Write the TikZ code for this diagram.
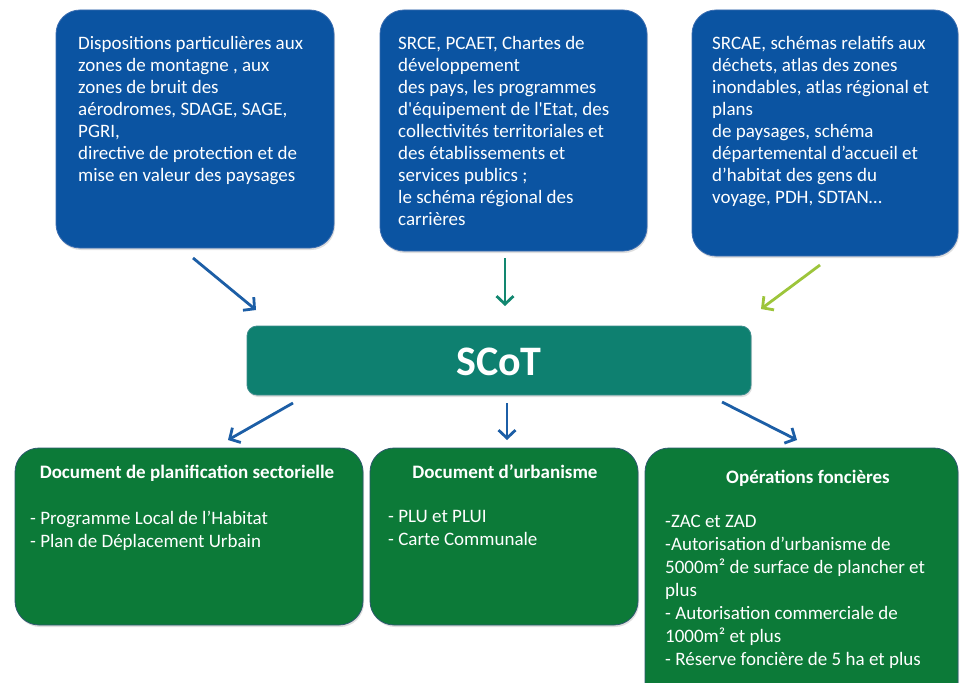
\documentclass[tikz,border=0pt]{standalone}
\usepackage{fontspec}
\setmainfont{Carlito}
\usetikzlibrary{arrows.meta,shadows}
\definecolor{topblue}{RGB}{11,84,162}
\definecolor{topedge}{RGB}{58,108,176}
\definecolor{botgreen}{RGB}{12,122,56}
\definecolor{botedge}{RGB}{45,88,110}
\definecolor{scotteal}{RGB}{14,128,112}
\definecolor{scotedge}{RGB}{60,140,140}
\definecolor{arblue}{RGB}{28,94,166}
\definecolor{arteal}{RGB}{18,135,112}
\definecolor{arlime}{RGB}{157,197,59}
\begin{document}
\begin{tikzpicture}[x=1pt,y=-1pt,
  boxshape/.style={inner sep=0pt, outer sep=0pt, anchor=north west, rounded corners=24pt,
    drop shadow={opacity=0.25, shadow xshift=1pt, shadow yshift=-2pt}},
  topbox/.style={boxshape, fill=topblue, draw=topedge, line width=0.8pt},
  botbox/.style={boxshape, fill=botgreen, draw=botedge, line width=0.8pt},
  txt/.style={text=white, align=left, inner sep=0pt, anchor=north west,
    font=\fontsize{19}{22}\selectfont, execute at begin node=\strut},
  btxt/.style={txt, font=\fontsize{19}{23}\selectfont},
  head/.style={text=white, inner sep=0pt, anchor=base, font=\fontsize{19}{22}\selectfont\bfseries},
  arr/.style={line width=2.8pt, -{Straight Barb[length=8pt,width=17pt]}}]
\useasboundingbox (0,0) rectangle (960,682);
\clip (0,0) rectangle (960,682);
\fill[white] (0,0) rectangle (960,682);
% top boxes
\node[topbox, minimum width=278pt, minimum height=238pt] (b1) at (56,10) {};
\node[topbox, minimum width=267pt, minimum height=241pt] (b2) at (380,10) {};
\node[topbox, minimum width=266pt, minimum height=246pt] (b3) at (692,10) {};
\node[txt] (t1) at (78,36) {Dispositions particulières aux\\zones de montagne , aux\\zones de bruit des\\aérodromes, SDAGE, SAGE,\\PGRI,\\directive de protection et de\\mise en valeur des paysages};
\node[txt] (t2) at (398,36) {SRCE, PCAET, Chartes de\\développement\\des pays, les programmes\\d\textquotesingle équipement de l\textquotesingle Etat, des\\collectivités territoriales et\\des établissements et\\services publics ;\\le schéma régional des\\carrières};
\node[txt] (t3) at (712,36) {SRCAE, schémas relatifs aux\\déchets, atlas des zones\\inondables, atlas régional et\\plans\\de paysages, schéma\\départemental d’accueil et\\d’habitat des gens du\\voyage, PDH, SDTAN…};
% SCoT
\node[inner sep=0pt, outer sep=0pt, anchor=north west, rounded corners=10pt, fill=scotteal, draw=scotedge, line width=0.8pt,
  minimum width=504pt, minimum height=69pt, drop shadow={opacity=0.25, shadow xshift=1pt, shadow yshift=-2pt}] (scot) at (247,326) {};
\node[text=white, font=\fontsize{42}{46}\selectfont\bfseries, inner sep=0pt] (scottxt) at ([yshift=-1pt]scot.center) {SCoT};
% bottom boxes
\node[botbox, minimum width=348pt, minimum height=177pt] (ba) at (15,448) {};
\node[botbox, minimum width=268pt, minimum height=177pt] (bb) at (370,448) {};
\node[botbox, minimum width=313pt, minimum height=260pt] (bc) at (645,448) {};
\node[head] (ha) at (187,478.5) {Document de planification sectorielle};
\node[head] (hb) at (505,478.5) {Document d’urbanisme};
\node[head] (hc) at (808,483.5) {Opérations foncières};
\node[btxt] (ia) at (30,510.4) {- Programme Local de l’Habitat\\- Plan de Déplacement Urbain};
\node[btxt] (ib) at (388,510.4) {- PLU et PLUI\\- Carte Communale};
\node[btxt] (ic) at (665,515.4) {-ZAC et ZAD\\-Autorisation d’urbanisme de\\5000m² de surface de plancher et\\plus\\- Autorisation commerciale de\\1000m² et plus\\- Réserve foncière de 5 ha et plus};
% arrow ends
\coordinate (a1s) at (193,258); \coordinate (a1e) at (256,310);
\coordinate (a2s) at (505,258); \coordinate (a2e) at (505,306);
\coordinate (a3s) at (820,265); \coordinate (a3e) at (761,309);
\coordinate (d1s) at (293,403); \coordinate (d1e) at (228,440);
\coordinate (d2s) at (507,403); \coordinate (d2e) at (507,440);
\coordinate (d3s) at (722,402); \coordinate (d3e) at (797,440);
\draw[arr, arblue] (a1s) -- (a1e);
\draw[arr, arteal] (a2s) -- (a2e);
\draw[arr, arlime] (a3s) -- (a3e);
\draw[arr, arblue] (d1s) -- (d1e);
\draw[arr, arblue] (d2s) -- (d2e);
\draw[arr, arblue] (d3s) -- (d3e);
\end{tikzpicture}
\end{document}
